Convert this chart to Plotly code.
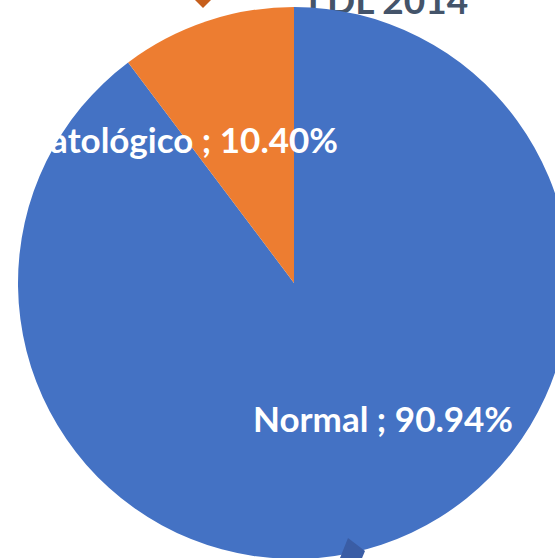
import plotly.graph_objects as go

labels = ["Normal", "Patológico"]
values = [90.94, 10.40]
colors = ["#4472C4", "#ED7D31"]
text_labels = ["Normal ; 90.94%", "Patológico ; 10.40%"]
title_text = "LDL 2014"

W, H = 580, 570
CX, CY, R = 294, 283, 276


def px(x):
    return x / W


def py(y):
    return 1 - y / H


fig = go.Figure()

# title text drawn beneath the pie (cartesian layer is under the pie layer)
fig.add_trace(go.Scatter(x=[388], y=[5], mode="text", text=["<b>" + title_text + "</b>"],
                         textposition="middle center",
                         textfont=dict(family="Lato", size=37, color="#44546A"),
                         hoverinfo="skip", showlegend=False))

fig.add_trace(go.Pie(labels=labels, values=values, sort=False, direction="clockwise",
                     rotation=0, marker=dict(colors=colors, line=dict(width=0)),
                     textinfo="none", showlegend=False, hoverinfo="skip",
                     domain=dict(x=[px(CX - R), px(CX + R)], y=[py(CY + R), py(CY - R)])))

fig.update_xaxes(visible=False, range=[0, W], domain=[0, 1])
fig.update_yaxes(visible=False, range=[H, 0], domain=[0, 1])

# data labels
fig.add_annotation(x=px(340), y=py(139), xref="paper", yref="paper", xanchor="right",
                   yanchor="middle", showarrow=False, text="<b>" + text_labels[1] + "</b>",
                   font=dict(family="Lato", size=35, color="white"))
fig.add_annotation(x=px(383), y=py(418), xref="paper", yref="paper", xanchor="center",
                   yanchor="middle", showarrow=False, text="<b>" + text_labels[0] + "</b>",
                   font=dict(family="Lato", size=35, color="white"))

# small leader-line markers
fig.add_shape(type="path", xref="paper", yref="paper",
              path=f"M {px(195)},{py(0)} L {px(203)},{py(-8)} L {px(211)},{py(0)} L {px(203)},{py(8)} Z",
              fillcolor="#C65F1C", line=dict(width=0), layer="above")
fig.add_shape(type="path", xref="paper", yref="paper",
              path=f"M {px(348)},{py(538)} L {px(365)},{py(551)} L {px(357)},{py(570)} L {px(340)},{py(558)} Z",
              fillcolor="#3A5DA5", line=dict(width=0), layer="above")

fig.update_layout(width=W, height=H, margin=dict(l=0, r=0, t=0, b=0),
                  paper_bgcolor="white", plot_bgcolor="rgba(0,0,0,0)", hovermode=False)

fig.write_html("out.html", config={"displayModeBar": False, "staticPlot": True},
               post_script="document.body.style.margin='0';document.body.style.overflow='hidden';")
